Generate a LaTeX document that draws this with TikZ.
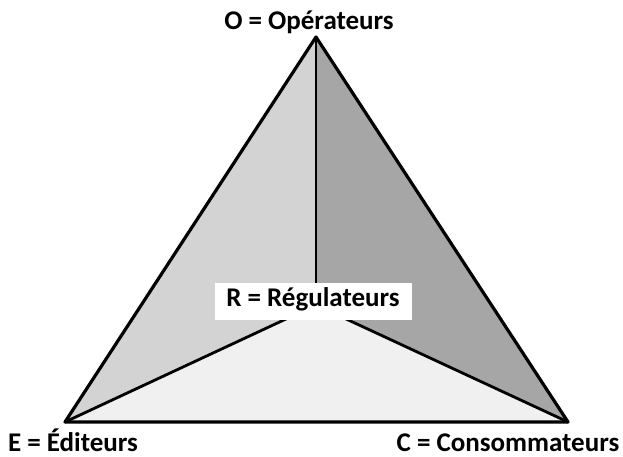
\documentclass[tikz,border=0pt]{standalone}
\usepackage{fontspec}
\setmainfont{Carlito}
\usetikzlibrary{positioning}
\definecolor{faceleft}{HTML}{D3D3D3}
\definecolor{faceright}{HTML}{A6A6A6}
\definecolor{facebottom}{HTML}{F0F0F0}
\tikzset{
  edge/.style={draw=black, line width=3.2pt, line join=round},
  inedge/.style={draw=black, line width=2.8pt, line cap=round},
  vlabel/.style={font=\fontsize{27}{31}\selectfont\bfseries, inner sep=0pt,
                 text depth=0pt, anchor=base},
  rlabel/.style={font=\fontsize{27}{31}\selectfont\bfseries, fill=white,
                 minimum width=197pt, text height=20pt, text depth=11pt,
                 inner sep=3pt, anchor=base},
}
\begin{document}
\begin{tikzpicture}[x=1pt, y=-1pt]
  \useasboundingbox (0,0) rectangle (623,457);

  %% -- vertices --
  \coordinate (O) at (316,37);
  \coordinate (E) at (65,422);
  \coordinate (C) at (568,422);
  \coordinate (R) at (316,305);

  %% -- faces --
  \fill[faceleft] (O) -- (E) -- (R) -- cycle;
  \fill[faceright] (O) -- (R) -- (C) -- cycle;
  \fill[facebottom] (E) -- (C) -- (R) -- cycle;

  %% -- edges --
  \draw[edge] (O) -- (E) -- (C) -- cycle;
  \draw[inedge] (O) -- (R);
  \draw[inedge] (E) -- (R);
  \draw[inedge] (C) -- (R);

  %% -- labels --
  \node[vlabel] (olabel) at (309,30) {O = Opérateurs};
  \node[rlabel] (rlabel) at (313,306) {R = Régulateurs};
  \node[vlabel] (elabel) at (73,451) {E = Éditeurs};
  \node[vlabel] (clabel) at (508,451) {C = Consommateurs};
\end{tikzpicture}
\end{document}
